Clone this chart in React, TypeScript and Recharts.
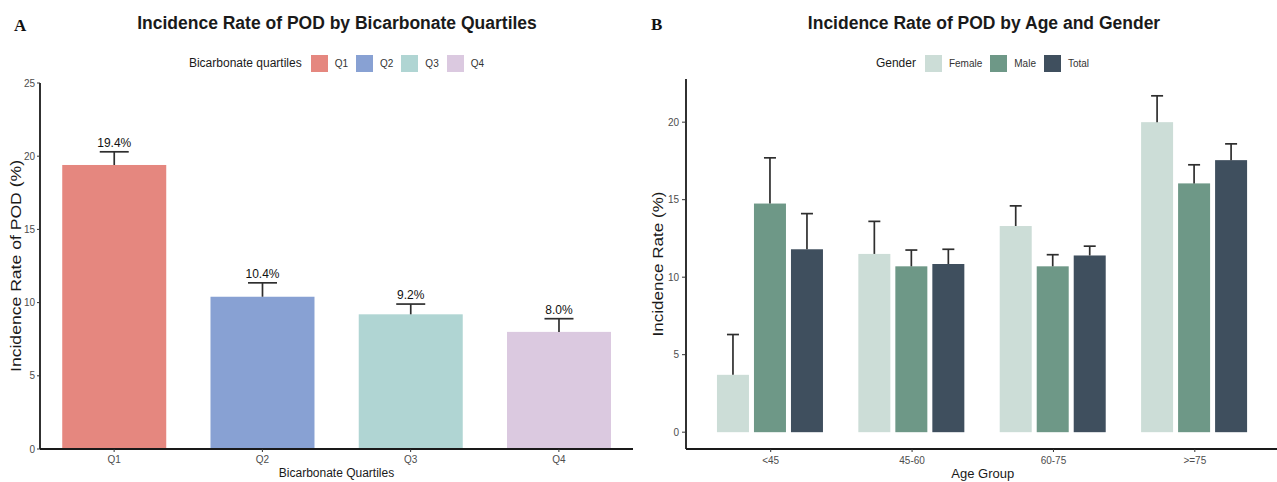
import React from 'react';
import { BarChart, Bar, XAxis, YAxis, Legend, Cell } from 'recharts';

// ---------- Panel A data ----------
const quartiles = ['Q1', 'Q2', 'Q3', 'Q4'];
const quartileRates = [19.4, 10.4, 9.2, 8.0];
const quartileUpper = [20.3, 11.35, 9.9, 8.9];
const quartileLabels = ['19.4%', '10.4%', '9.2%', '8.0%'];
const quartileColors = ['#E5877F', '#88A1D3', '#B0D5D3', '#DBC9E0'];
const quartileTicks = [0, 5, 10, 15, 20, 25];

// ---------- Panel B data ----------
const ageGroups = ['<45', '45-60', '60-75', '>=75'];
const femaleRates = [3.7, 11.5, 13.3, 20.0];
const maleRates = [14.75, 10.7, 10.7, 16.05];
const totalRates = [11.8, 10.85, 11.4, 17.55];
const femaleUpper = [6.3, 13.6, 14.6, 21.7];
const maleUpper = [17.7, 11.75, 11.45, 17.25];
const totalUpper = [14.1, 11.8, 12.0, 18.6];
const genders = ['Female', 'Male', 'Total'];
const genderColors = ['#CCDDD7', '#6E9887', '#3F4F5E'];
const ageTicks = [0, 5, 10, 15, 20];

const quartileData = quartiles.map((q, i) => ({
  name: q,
  rate: quartileRates[i],
  upper: quartileUpper[i],
  label: quartileLabels[i],
}));

const ageData = ageGroups.map((g, i) => ({
  age: g,
  female: femaleRates[i],
  male: maleRates[i],
  total: totalRates[i],
  femaleUp: femaleUpper[i],
  maleUp: maleUpper[i],
  totalUp: totalUpper[i],
}));

const FONT = '"Liberation Sans", Arial, Helvetica, sans-serif';
const AXIS = '#1a1a1a';
const ERR = '#2e2e2e';

const makeErrShape = (valKey: string, upKey: string, capW: number, withLabel: boolean) => (props: any) => {
  const { x, y, width, height, fill, payload } = props;
  const val = payload[valKey];
  const up = payload[upKey];
  const ppu = val ? height / val : 0;
  const capY = y - (up - val) * ppu;
  const cx = x + width / 2;
  return (
    <g>
      <rect x={x} y={y} width={width} height={height} fill={fill} />
      <line x1={cx} x2={cx} y1={y} y2={capY} stroke={ERR} strokeWidth={1.7} />
      <line x1={cx - capW / 2} x2={cx + capW / 2} y1={capY} y2={capY} stroke={ERR} strokeWidth={1.7} />
      {withLabel && (
        <text x={cx} y={capY - 5} textAnchor="middle" fontSize={12} fontFamily={FONT} fill="#111">
          {payload.label}
        </text>
      )}
    </g>
  );
};

const LegendRow = ({ title, items, colors }: { title: string; items: string[]; colors: string[] }) => (
  <div
    style={{
      display: 'flex',
      justifyContent: 'center',
      alignItems: 'center',
      fontFamily: FONT,
      height: 18,
    }}
  >
    <span style={{ fontSize: 12, color: '#1a1a1a', marginRight: 9 }}>{title}</span>
    {items.map((it, i) => (
      <React.Fragment key={it}>
        <span style={{ width: 17, height: 17, background: colors[i], display: 'inline-block', marginRight: 7 }} />
        <span style={{ fontSize: 10, color: '#333', marginRight: i === items.length - 1 ? 0 : 8 }}>{it}</span>
      </React.Fragment>
    ))}
  </div>
);

const yLabel = (text: string, dx: number, len: number) => (props: any) => {
  const vb = props.viewBox || { x: 0, y: 0, width: 0, height: 0 };
  const cx = vb.x + dx;
  const cy = vb.y + vb.height / 2;
  return (
    <text
      x={cx}
      y={cy}
      transform={`rotate(-90 ${cx} ${cy})`}
      textAnchor="middle"
      dominantBaseline="central"
      fontSize={14}
      textLength={len}
      lengthAdjust="spacingAndGlyphs"
      fontFamily={FONT}
      fill="#1a1a1a"
    >
      {text}
    </text>
  );
};

const xLabel = (text: string, dy: number, size: number) => (props: any) => {
  const vb = props.viewBox || { x: 0, y: 0, width: 0, height: 0 };
  return (
    <text x={vb.x + vb.width / 2} y={vb.y + dy} textAnchor="middle" fontSize={size} fontFamily={FONT} fill="#1a1a1a">
      {text}
    </text>
  );
};

const tickStyle = { fontSize: 10, fill: '#4D4D4D', fontFamily: FONT };

export default function App() {
  return (
    <div
      style={{
        position: 'fixed',
        left: 0,
        top: 0,
        width: 1277,
        height: 482,
        overflow: 'hidden',
        background: '#ffffff',
        fontFamily: FONT,
      }}
    >
      {/* Panel A */}
      <div style={{ position: 'absolute', left: 0, top: 0 }}>
        <BarChart
          width={640}
          height={482}
          data={quartileData}
          margin={{ top: 83, right: 7, bottom: 0, left: 0 }}
          barCategoryGap="15%"
        >
          <XAxis
            dataKey="name"
            height={33}
            tickSize={3}
            tickMargin={4}
            tick={tickStyle}
            axisLine={{ stroke: AXIS, strokeWidth: 1.8 }}
            tickLine={{ stroke: '#333' }}
            label={{ content: xLabel('Bicarbonate Quartiles', 28, 12) }}
          />
          <YAxis
            type="number"
            domain={[0, 25]}
            ticks={quartileTicks}
            interval={0}
            allowDataOverflow
            width={40}
            tickSize={3}
            tickMargin={2}
            tick={tickStyle}
            axisLine={{ stroke: AXIS, strokeWidth: 1.8 }}
            tickLine={{ stroke: '#333' }}
            label={{ content: yLabel('Incidence Rate of POD (%)', 16, 212) }}
          />
          <Legend
            layout="horizontal"
            verticalAlign="middle"
            align="center"
            wrapperStyle={{ top: 54, left: 40, width: 593, height: 18 }}
            content={() => <LegendRow title="Bicarbonate quartiles" items={quartiles} colors={quartileColors} />}
          />
          <Bar
            dataKey="rate"
            isAnimationActive={false}
            shape={makeErrShape('rate', 'upper', 29, true)}
          >
            {quartileData.map((d, i) => (
              <Cell key={d.name} fill={quartileColors[i]} />
            ))}
          </Bar>
        </BarChart>
      </div>

      {/* Panel B */}
      <div style={{ position: 'absolute', left: 640, top: 0 }}>
        <BarChart
          width={660}
          height={482}
          data={ageData}
          margin={{ top: 79, right: 20.5, bottom: 0, left: 0 }}
          barCategoryGap="12%"
          barGap={5}
        >
          <XAxis
            dataKey="age"
            height={33}
            tickSize={3}
            tickMargin={5}
            padding={{ left: 14, right: 14 }}
            tick={tickStyle}
            axisLine={{ stroke: AXIS, strokeWidth: 1.8 }}
            tickLine={{ stroke: '#333' }}
            label={{ content: xLabel('Age Group', 29, 13) }}
          />
          <YAxis
            type="number"
            domain={[-1.085, 22.785]}
            ticks={ageTicks}
            interval={0}
            allowDataOverflow
            width={46}
            tickSize={4}
            tickMargin={3}
            tick={tickStyle}
            axisLine={{ stroke: AXIS, strokeWidth: 1.8 }}
            tickLine={{ stroke: '#333' }}
            label={{ content: yLabel('Incidence Rate (%)', 18, 145) }}
          />
          <Legend
            layout="horizontal"
            verticalAlign="middle"
            align="center"
            wrapperStyle={{ top: 54, left: 46, width: 593, height: 18 }}
            content={() => <LegendRow title="Gender" items={genders} colors={genderColors} />}
          />
          <Bar dataKey="female" fill={genderColors[0]} isAnimationActive={false} shape={makeErrShape('female', 'femaleUp', 12, false)} />
          <Bar dataKey="male" fill={genderColors[1]} isAnimationActive={false} shape={makeErrShape('male', 'maleUp', 12, false)} />
          <Bar dataKey="total" fill={genderColors[2]} isAnimationActive={false} shape={makeErrShape('total', 'totalUp', 12, false)} />
        </BarChart>
      </div>

      {/* Titles and panel letters */}
      <svg
        width={1277}
        height={482}
        style={{ position: 'absolute', left: 0, top: 0, pointerEvents: 'none' }}
      >
        <text x={14} y={31} fontFamily='"Liberation Serif", "Times New Roman", serif' fontWeight="bold" fontSize={17} fill="#111">
          A
        </text>
        <text x={337} y={29} textAnchor="middle" fontFamily={FONT} fontWeight="bold" fontSize={17.5} fill="#1a1a1a">
          Incidence Rate of POD by Bicarbonate Quartiles
        </text>
        <text x={651} y={30} fontFamily='"Liberation Serif", "Times New Roman", serif' fontWeight="bold" fontSize={17} fill="#111">
          B
        </text>
        <text x={984} y={29} textAnchor="middle" fontFamily={FONT} fontWeight="bold" fontSize={17.5} fill="#1a1a1a">
          Incidence Rate of POD by Age and Gender
        </text>
      </svg>
    </div>
  );
}
